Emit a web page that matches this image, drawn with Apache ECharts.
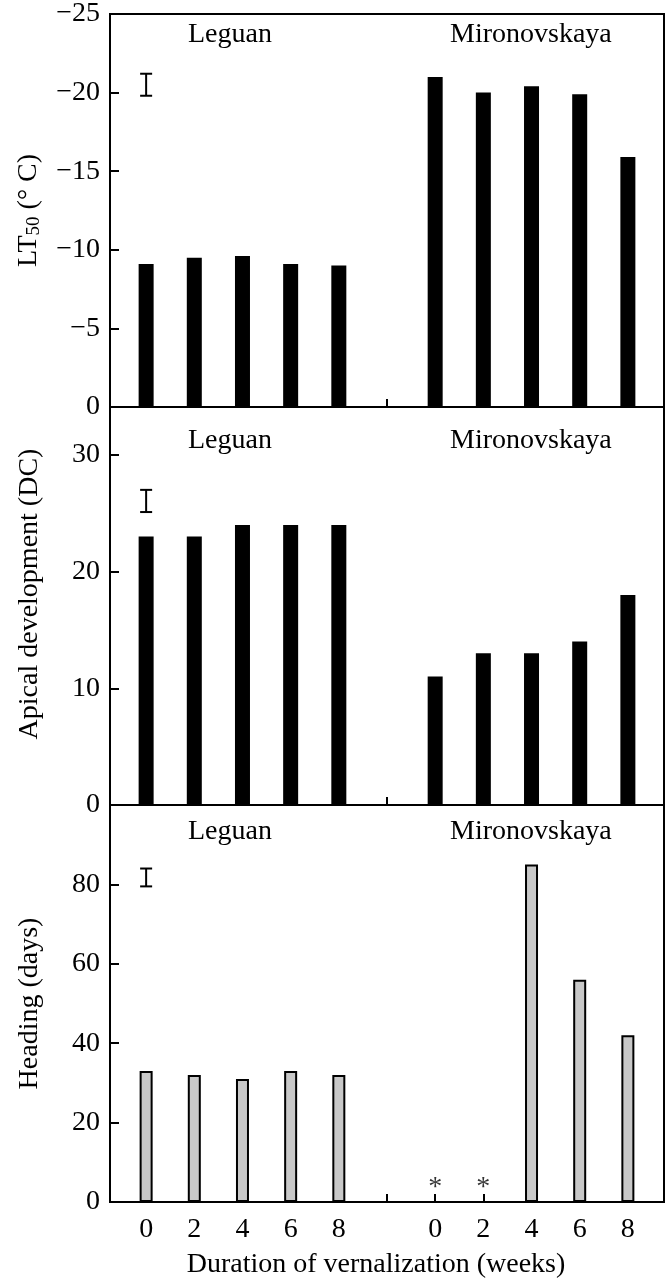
<!DOCTYPE html>
<html>
<head>
<meta charset="utf-8">
<title>Vernalization</title>
<script src="https://cdn.jsdelivr.net/npm/echarts@6/dist/echarts.min.js"></script>
<style>
  html, body { margin: 0; padding: 0; background: #fff; }
  #chartBox { width: 668px; height: 1280px; }
</style>
</head>
<body>
<div id="chartBox"></div>
<script>
// weeks of vernalization (same for both cultivars)
const durations = ['0', '2', '4', '6', '8']
const cultivars = ['Leguan', 'Mironovskaya']

// LT50 (°C)
const leguanLT50 = [-9.1, -9.5, -9.6, -9.1, -9.0]
const mironLT50 = [-21.0, -20.0, -20.4, -19.9, -15.9]
// apical development (DC)
const leguanDC = [23, 23, 24, 24, 24]
const mironDC = [11, 13, 13, 14, 18]
// heading (days); null = not headed, marked with *
const leguanHeading = [33, 32, 31, 33, 32]
const mironHeading = [null, null, 85, 56, 42]

// LSD bars (low, high), drawn at Leguan 0 weeks
const lsdLT50 = [-19.8, -21.2]
const lsdDC = [25.1, 27.0]
const lsdHeading = [79.5, 84.0]

// y tick labels
const lt50Ticks = [0, -5, -10, -15, -20, -25]
const dcTicks = [0, 10, 20, 30]
const headingTicks = [0, 20, 40, 60, 80]

const FONT = '"Liberation Serif", "Times New Roman", serif'
const FS = 28
const GAP = 6 // slot index of the first Mironovskaya bar, after the empty gap
const xLabels = durations.concat([''], durations)

function toPoints(leguan, miron) {
  const pts = leguan.map((v, i) => [i, v])
  miron.forEach((v, i) => {
    if (v !== null) pts.push([i + GAP, v])
  })
  return pts
}

function renderLsd(params, api) {
  const x = api.value(0)
  const a = api.coord([x, api.value(1)])
  const b = api.coord([x, api.value(2)])
  const w = 6
  const style = { stroke: '#000', lineWidth: 2 }
  return {
    type: 'group',
    children: [
      { type: 'line', shape: { x1: a[0], y1: a[1], x2: b[0], y2: b[1] }, style },
      { type: 'line', shape: { x1: a[0] - w, y1: a[1], x2: a[0] + w, y2: a[1] }, style },
      { type: 'line', shape: { x1: b[0] - w, y1: b[1], x2: b[0] + w, y2: b[1] }, style }
    ]
  }
}

function makeX(idx, showLabels) {
  const allSlots = xLabels.map((s, i) => i)
  return {
    type: 'value',
    gridIndex: idx,
    min: -0.75,
    max: 10.75,
    splitLine: { show: false },
    axisLine: { show: true, onZero: false, lineStyle: { color: '#000', width: 2 } },
    axisTick: { show: true, inside: true, length: 8, customValues: allSlots, lineStyle: { color: '#000', width: 2 } },
    axisLabel: {
      show: showLabels,
      customValues: allSlots.filter(i => i !== 5),
      formatter: v => xLabels[v],
      margin: 14,
      color: '#000',
      fontFamily: FONT,
      fontSize: FS
    },
    name: showLabels ? 'Duration of vernalization (weeks)' : '',
    nameLocation: 'middle',
    nameGap: 49,
    nameTextStyle: { color: '#000', fontFamily: FONT, fontSize: FS, padding: [0, 22, 0, 0] }
  }
}

function makeY(idx, name, min, max, ticks, inverse, fmt, shift) {
  return {
    type: 'value',
    gridIndex: idx,
    min: min,
    max: max,
    inverse: inverse,
    splitLine: { show: false },
    axisLine: { show: false, onZero: false },
    axisTick: { show: true, inside: true, length: 9, customValues: ticks, lineStyle: { color: '#000', width: 2 } },
    axisLabel: {
      customValues: ticks,
      formatter: fmt,
      margin: 10,
      color: '#000',
      fontFamily: FONT,
      fontSize: FS
    },
    name: name,
    nameLocation: 'middle',
    nameGap: 66,
    nameTextStyle: {
      color: '#000',
      fontFamily: FONT,
      fontSize: FS,
      padding: [0, 0, 0, shift || 0],
      rich: {
        sub: { fontFamily: FONT, fontSize: 19, padding: [12, 0, 0, 0] }
      }
    }
  }
}

function groupLabels(top) {
  return [
    { type: 'text', left: 188, top: top, style: { text: cultivars[0], font: FS + 'px ' + FONT, fill: '#000' } },
    { type: 'text', left: 450, top: top, style: { text: cultivars[1], font: FS + 'px ' + FONT, fill: '#000' } }
  ]
}

const grids = [9, 407, 805].map(t => ({
  left: 110, right: 4, top: t, height: 398,
  show: true, borderColor: '#000', borderWidth: 2
}))

const chart = echarts.init(document.getElementById('chartBox'))
chart.setOption({
  animation: false,
  backgroundColor: '#fff',
  grid: grids,
  xAxis: [makeX(0, false), makeX(1, false), makeX(2, true)],
  yAxis: [
    makeY(0, 'LT{sub|50} (° C)', -25, 0, lt50Ticks, true, v => (v < 0 ? '\u2212' + Math.abs(v) : String(v))),
    makeY(1, 'Apical development (DC)', 0, 34.1, dcTicks, false, undefined, 24),
    makeY(2, 'Heading (days)', 0, 100, headingTicks, false)
  ],
  graphic: [].concat(groupLabels(21), groupLabels(427), groupLabels(818)),
  series: [
    {
      type: 'bar', xAxisIndex: 0, yAxisIndex: 0, barWidth: 15,
      itemStyle: { color: '#000' },
      data: toPoints(leguanLT50, mironLT50)
    },
    {
      type: 'bar', xAxisIndex: 1, yAxisIndex: 1, barWidth: 15,
      itemStyle: { color: '#000' },
      data: toPoints(leguanDC, mironDC)
    },
    {
      type: 'bar', xAxisIndex: 2, yAxisIndex: 2, barWidth: 13,
      itemStyle: { color: '#c8c8c8', borderColor: '#000', borderWidth: 2 },
      data: toPoints(leguanHeading, mironHeading)
    },
    {
      // asterisks for the Mironovskaya plants that did not head
      type: 'scatter', xAxisIndex: 2, yAxisIndex: 2, symbolSize: 0,
      label: { show: true, position: 'top', distance: 0, formatter: '*', color: '#000', fontFamily: FONT, fontSize: FS },
      data: mironHeading.map((v, i) => (v === null ? [i + GAP, 0] : null)).filter(p => p)
    },
    { type: 'custom', xAxisIndex: 0, yAxisIndex: 0, renderItem: renderLsd, encode: { x: 0, y: [1, 2] }, data: [[0].concat(lsdLT50)] },
    { type: 'custom', xAxisIndex: 1, yAxisIndex: 1, renderItem: renderLsd, encode: { x: 0, y: [1, 2] }, data: [[0].concat(lsdDC)] },
    { type: 'custom', xAxisIndex: 2, yAxisIndex: 2, renderItem: renderLsd, encode: { x: 0, y: [1, 2] }, data: [[0].concat(lsdHeading)] }
  ]
})
window.addEventListener('resize', () => chart.resize())
</script>
</body>
</html>
